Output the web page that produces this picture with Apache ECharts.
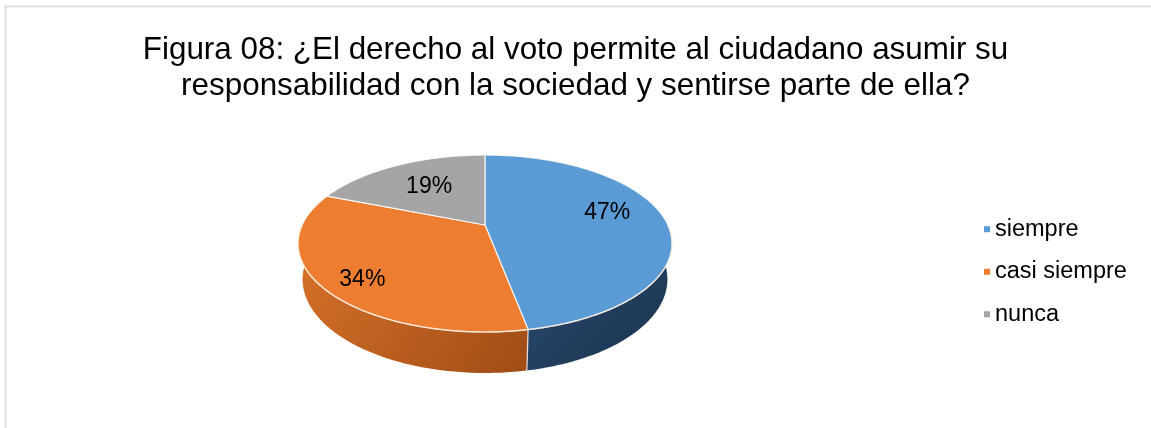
<!DOCTYPE html>
<html>
<head>
<meta charset="utf-8">
<script src="https://cdn.jsdelivr.net/npm/echarts@6/dist/echarts.min.js"></script>
<style>
  html, body { margin: 0; padding: 0; background: #ffffff; }
  #chart { width: 1151px; height: 428px; }
</style>
</head>
<body>
<div id="chart"></div>
<script>
// Survey answers and their shares (percent)
const categories = ['siempre', 'casi siempre', 'nunca'];
const shares = [47, 34, 19];
const titleLines = [
  'Figura 08: ¿El derecho al voto permite al ciudadano asumir su',
  'responsabilidad con la sociedad y sentirse parte de ella?'
];

// Styling
const topColors = ['#5B9BD5', '#ED7D31', '#A5A5A5'];
const wallColors = [
  ['#2A4C71', '#1B334E'],
  ['#D8732A', '#A04C16'],
  ['#808080', '#666666']
];
const labelRadius = [0.68, 0.78, 0.6];
const labelNudge = [-7, 8, 0];
const FONT = '"Liberation Sans", Arial, sans-serif';

// Camera for the tilted pie: screen centre, focal length, distance, tilt (deg), wall height
const VIEW = { cx: 485, cy: 225, focal: 775.7, dist: 4.241, tilt: 27.56, wall: 0.222 };

const total = shares.reduce((a, b) => a + b, 0);
const starts = [];
let acc = 0;
shares.forEach(v => { starts.push(acc / total * Math.PI * 2); acc += v; });

const tiltS = Math.sin(VIEW.tilt * Math.PI / 180);
const tiltC = Math.cos(VIEW.tilt * Math.PI / 180);

// world (x right, z away from viewer, h up) -> screen
function project(x, z, h) {
  const Y = h * tiltC + z * tiltS;
  const Z = -h * tiltS + z * tiltC;
  const k = VIEW.focal / (VIEW.dist + Z);
  return [VIEW.cx + x * k, VIEW.cy - Y * k];
}
// point on the rim; angle clockwise from the far side
function rim(theta, h, r) {
  const rr = r == null ? 1 : r;
  return project(rr * Math.sin(theta), rr * Math.cos(theta), h || 0);
}
function arc(a0, a1, h) {
  const n = Math.max(2, Math.ceil((a1 - a0) / 0.015));
  const out = [];
  for (let i = 0; i <= n; i++) out.push(rim(a0 + (a1 - a0) * i / n, h));
  return out;
}

function renderSlice(params, api) {
  const i = params.dataIndex;
  const v = api.value(0);
  const a0 = starts[i];
  const a1 = a0 + v / total * Math.PI * 2;
  const children = [];

  // outer wall on the half that faces the viewer
  const f0 = Math.max(a0, Math.PI / 2);
  const f1 = Math.min(a1, Math.PI * 1.5);
  if (f1 > f0) {
    const upper = arc(f0, f1, 0);
    const lower = arc(f0, f1, -VIEW.wall).reverse();
    children.push({
      type: 'polygon',
      shape: { points: upper.concat(lower) },
      style: {
        fill: {
          type: 'linear', x: 0, y: 0, x2: 1, y2: 1,
          colorStops: [
            { offset: 0, color: wallColors[i][0] },
            { offset: 1, color: wallColors[i][1] }
          ]
        }
      },
      z2: 1
    });
    children.push({
      type: 'polyline',
      shape: { points: upper },
      style: { stroke: 'rgba(255,235,215,0.6)', lineWidth: 1.5, fill: null },
      z2: 4
    });
    if (a0 > Math.PI / 2 && a0 < Math.PI * 1.5) {
      const p = rim(a0, 0), q = rim(a0, -VIEW.wall);
      children.push({
        type: 'line',
        shape: { x1: p[0], y1: p[1], x2: q[0], y2: q[1] },
        style: { stroke: 'rgba(255,255,255,0.75)', lineWidth: 1.3 },
        z2: 4
      });
    }
  }

  // top face
  children.push({
    type: 'polygon',
    shape: { points: [project(0, 0, 0)].concat(arc(a0, a1, 0)) },
    style: { fill: topColors[i], stroke: 'rgba(255,255,255,0.85)', lineWidth: 1.2 },
    z2: 2
  });

  // percentage label
  const mid = (a0 + a1) / 2;
  const lp = rim(mid, 0, labelRadius[i]);
  children.push({
    type: 'text',
    style: {
      text: v + '%',
      x: lp[0],
      y: lp[1] + labelNudge[i],
      fill: '#000000',
      font: '23px ' + FONT,
      align: 'center',
      verticalAlign: 'middle'
    },
    z2: 10
  });

  return { type: 'group', children };
}

const chart = echarts.init(document.getElementById('chart'), null, { renderer: 'canvas' });
chart.setOption({
  animation: false,
  backgroundColor: '#ffffff',
  color: topColors,
  title: {
    text: titleLines.join('\n'),
    left: 'center',
    top: 27,
    textStyle: { fontFamily: FONT, fontSize: 31.4, lineHeight: 36, fontWeight: 'normal', color: '#000000' }
  },
  legend: {
    orient: 'vertical',
    left: 979,
    top: 211,
    icon: 'rect',
    itemWidth: 6,
    itemHeight: 6,
    itemGap: 16,
    data: categories,
    textStyle: { fontFamily: FONT, fontSize: 23.5, lineHeight: 26.5, color: '#000000' }
  },
  graphic: [{
    type: 'rect',
    shape: { x: 5.5, y: 6.5, width: 1300, height: 600 },
    style: { fill: null, stroke: '#D9D9D9', lineWidth: 1.5 },
    silent: true
  }],
  series: [
    {
      type: 'custom',
      coordinateSystem: 'none',
      renderItem: renderSlice,
      data: shares.map((v, i) => ({ name: categories[i], value: v })),
      silent: true
    },
    {
      // feeds the legend with category names and colours
      type: 'pie',
      radius: [0, 0],
      center: [-100, -100],
      silent: true,
      label: { show: false },
      labelLine: { show: false },
      data: shares.map((v, i) => ({ name: categories[i], value: v }))
    }
  ]
});
</script>
</body>
</html>
